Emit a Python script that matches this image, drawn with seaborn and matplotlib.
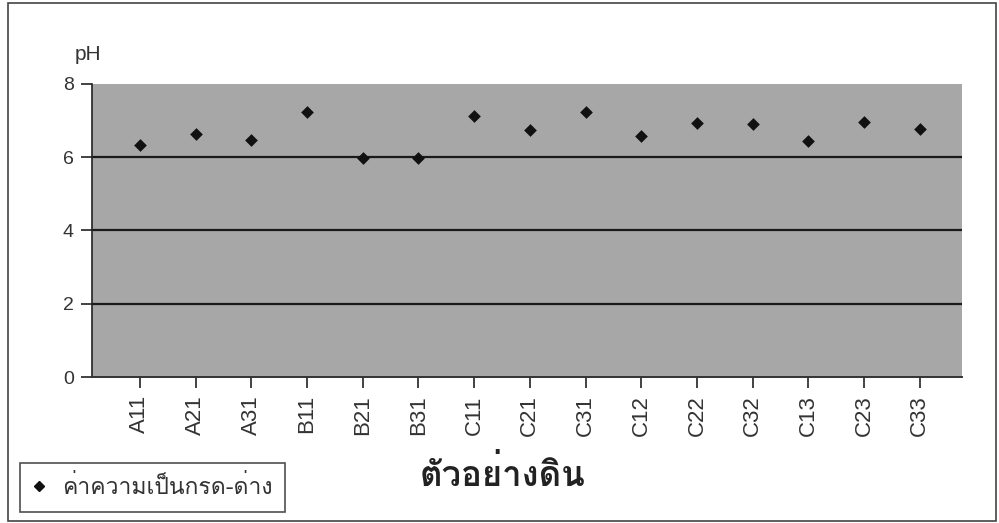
import matplotlib
matplotlib.use("Agg")
import matplotlib.pyplot as plt
import seaborn as sns
import pandas as pd
from matplotlib import font_manager, ft2font
from matplotlib.patches import Rectangle

# Data
samples = ["A11", "A21", "A31", "B11", "B21", "B31", "C11", "C21",
           "C31", "C12", "C22", "C32", "C13", "C23", "C33"]
ph_values = [6.32, 6.62, 6.47, 7.22, 5.99, 5.98, 7.12, 6.74,
             7.24, 6.58, 6.92, 6.90, 6.45, 6.95, 6.76]
y_ticks = [0, 2, 4, 6, 8]
series_label = "ค่าความเป็นกรด-ด่าง"
x_title = "ตัวอย่างดิน"
y_title = "pH"

df = pd.DataFrame({"sample": samples, "pH": ph_values})

# find an installed font that has Thai glyphs
thai_font = None
for f in font_manager.fontManager.ttflist:
    try:
        ft = ft2font.FT2Font(f.fname)
        if ft.get_char_index(ord("ต")):
            thai_font = f.name
            break
    except Exception:
        pass

sns.set_style("white")
latin = "Liberation Sans"
families = [latin, "DejaVu Sans"]
thai_families = ([thai_font] if thai_font else []) + families
plt.rcParams["font.family"] = families

fig = plt.figure(figsize=(9.99, 5.23), dpi=100)
ax = fig.add_axes([0.0921, 0.279, 0.871, 0.5606])
ax.set_facecolor("#a7a7a7")

df["x"] = range(len(samples))
sns.scatterplot(data=df, x="x", y="pH", marker="D", s=42, color="#111111",
                edgecolor="#111111", linewidth=0, ax=ax, label=series_label,
                legend=False, zorder=3)

ax.set_xlim(-0.86, len(samples) - 0.24)
ax.set_ylim(0, 8)
ax.set_yticks(y_ticks)
ax.set_yticklabels([str(v) for v in y_ticks], fontsize=14, color="#333333")
ax.set_xticks(df["x"])
ax.set_xticklabels(samples, rotation=90, fontsize=16, color="#333333")
ax.tick_params(axis="both", which="both", direction="out", length=8,
               width=1.2, color="#222222", pad=5,
               left=True, bottom=True)
for v in y_ticks[1:4]:
    ax.axhline(v, color="#1a1a1a", lw=1.6, zorder=2)
ax.grid(False)
for side in ["top", "right"]:
    ax.spines[side].set_visible(False)
ax.spines["left"].set_color("#222222")
ax.spines["left"].set_linewidth(1.2)
ax.spines["bottom"].set_color("#333333")
ax.spines["bottom"].set_linewidth(1.4)
ax.set_xlabel("")
ax.set_ylabel("")

fig.text(0.075, 0.885, y_title, fontsize=15, color="#333333", ha="left",
         va="baseline", family=families)
fig.text(0.503, 0.094, x_title, fontsize=25, fontweight="bold",
         color="#222222", ha="center", va="center", family=thai_families)

handle = plt.Line2D([], [], marker="D", ls="none", color="#111111",
                    markersize=5)
leg = fig.legend([handle], [series_label], loc="lower left",
                 bbox_to_anchor=(0.02, 0.021), frameon=True, fancybox=False,
                 prop={"family": thai_families, "size": 16.5},
                 handlelength=0.6, handletextpad=0.7, borderpad=0.55,
                 borderaxespad=0)
leg.get_frame().set_edgecolor("#222222")
leg.get_frame().set_linewidth(1.2)
for t in leg.get_texts():
    t.set_color("#333333")

# outer chart frame
fig.patches.append(Rectangle((0.008, 0.004), 0.989, 0.99,
                             transform=fig.transFigure, fill=False,
                             edgecolor="#444444", lw=1.2))

fig.savefig("out.png", dpi=100)
